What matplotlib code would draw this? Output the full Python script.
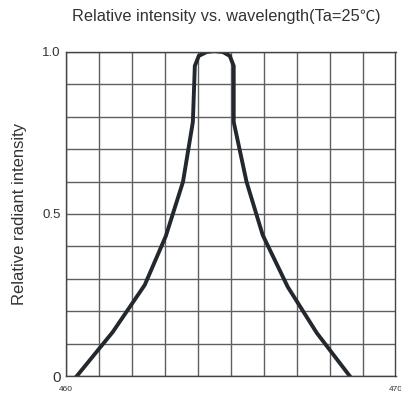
import matplotlib.pyplot as plt
import numpy as np

# wavelength (nm) and relative intensity
wavelength = [460.33, 461.42, 462.39, 463.03, 463.55, 463.85, 463.91, 464.03,
              464.27, 464.5, 464.76, 464.97, 465.09, 465.09, 465.48, 465.97,
              466.73, 467.61, 468.61]
intensity = [0.0, 0.136, 0.281, 0.432, 0.599, 0.784, 0.957, 0.988,
             1.0, 1.003, 1.0, 0.988, 0.957, 0.784, 0.599, 0.435,
             0.275, 0.133, 0.0]

x_ticks = [460, 470]
x_labels = ['460', '470']
y_ticks = [0, 0.5, 1.0]
y_labels = ['0', '0.5', '1.0']

plt.rcParams['font.family'] = ['Liberation Sans', 'Noto Sans CJK SC', 'DejaVu Sans']

fig = plt.figure(figsize=(4.01, 3.98), dpi=100)
ax = fig.add_axes([66/401, 22/398, 329.5/401, 324/398])

ax.plot(wavelength, intensity, color='#23282f', linewidth=2.8, solid_joinstyle='miter')

ax.set_xlim(460, 470)
ax.set_ylim(0, 1)
ax.set_xticks(x_ticks)
ax.set_xticklabels(x_labels, fontsize=6, color='#333333')
ax.set_xticks(np.arange(460, 471, 1), minor=True)
ax.set_yticks(y_ticks)
ax.set_yticklabels(y_labels, fontsize=9.5, color='#333333')
ax.get_yticklabels()[0].set_fontsize(11)
ax.set_yticks(np.arange(0, 1.01, 0.1), minor=True)
ax.tick_params(which='both', length=0)
ax.tick_params(axis='x', pad=7)
ax.tick_params(axis='y', pad=4)
ax.grid(which='both', color='#5f5f5f', linewidth=1.0)
ax.set_axisbelow(True)
for s in ax.spines.values():
    s.set_color('#444444')
    s.set_linewidth(1.0)

ax.set_ylabel('Relative radiant intensity', fontsize=12, color='#333333', labelpad=11)

# title: latin part plus a full-width degree-Celsius sign
ty = 0.948
t1 = fig.text(72/401, ty, 'Relative intensity vs. wavelength(Ta=25', fontsize=11.8,
              color='#333333', ha='left', va='baseline')
t2 = fig.text(0, ty, '℃', fontsize=11, color='#333333', family='Noto Sans CJK SC',
              ha='left', va='baseline')
t3 = fig.text(0, ty, ')', fontsize=11.8, color='#333333', ha='left', va='baseline')
fig.canvas.draw()
r = fig.canvas.get_renderer()
inv = fig.transFigure.inverted()
x1 = inv.transform((t1.get_window_extent(r).x1, 0))[0]
t2.set_x(x1)
x2 = inv.transform((t2.get_window_extent(r).x1, 0))[0]
t3.set_x(x2)

fig.savefig('out.png', dpi=100)
